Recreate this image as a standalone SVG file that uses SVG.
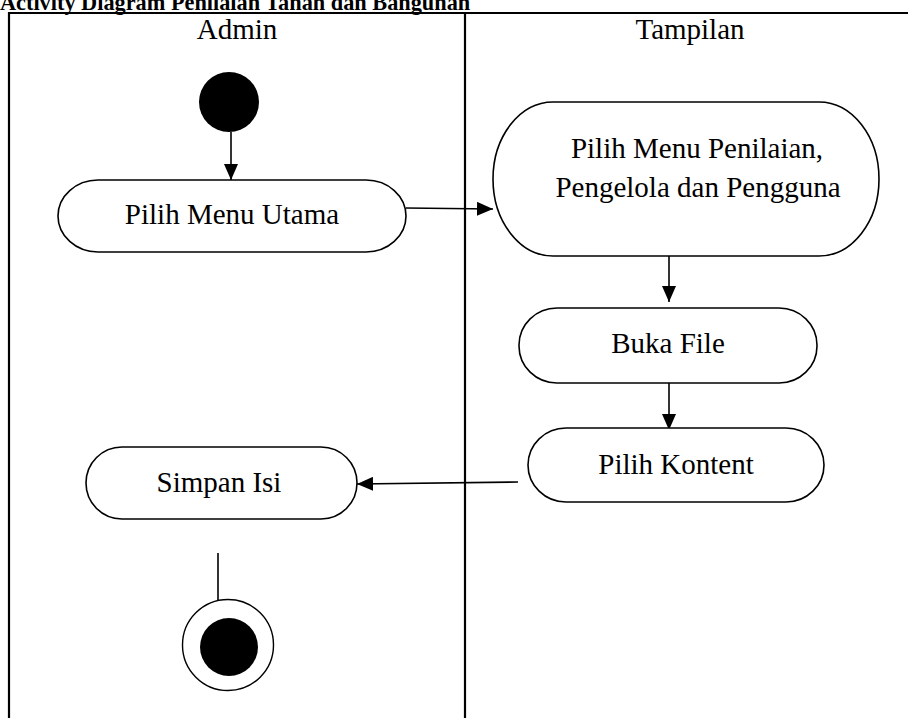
<svg xmlns="http://www.w3.org/2000/svg" width="908" height="718" viewBox="0 0 908 718">
<defs>
<marker id="arr" markerWidth="16" markerHeight="14" refX="16" refY="7" orient="auto" markerUnits="userSpaceOnUse">
<path d="M0,0 L16,7 L0,14 Z" fill="#000"/>
</marker>
</defs>
<style>
text{font-family:"Liberation Serif","Times New Roman",serif;fill:#000}
.lbl{font-size:29px;text-anchor:middle}
.title{font-size:22.3px;font-weight:bold}
.frame{stroke:#000;stroke-width:2.2;fill:none}
.act{fill:#fff;stroke:#000;stroke-width:1.6}
.edge{stroke:#000;stroke-width:1.6;fill:none}
</style>
<rect width="908" height="718" fill="#fff"/>
<text class="title" x="0" y="10">Activity Diagram Penilaian Tanah dan Bangunan</text>
<g id="swimlanes">
<line class="frame" x1="9" y1="13" x2="908" y2="13"/>
<line class="frame" x1="9" y1="12" x2="9" y2="718"/>
<line class="frame" x1="465" y1="13" x2="465" y2="718"/>
<text class="lbl" x="237" y="39">Admin</text>
<text class="lbl" x="690" y="39">Tampilan</text>
</g>
<g id="connectors">
<line class="edge" x1="231" y1="132" x2="231" y2="180" marker-end="url(#arr)"/>
<line class="edge" x1="406" y1="208" x2="493" y2="209" marker-end="url(#arr)"/>
<line class="edge" x1="669" y1="256" x2="669" y2="302" marker-end="url(#arr)"/>
<line class="edge" x1="669" y1="383" x2="669" y2="430" marker-end="url(#arr)"/>
<line class="edge" x1="518" y1="482" x2="357" y2="484" marker-end="url(#arr)"/>
<line class="edge" x1="218" y1="553" x2="218" y2="600"/>
</g>
<g id="start">
<circle cx="229" cy="102" r="30" fill="#000"/>
</g>
<g id="pilih-menu-utama">
<rect class="act" x="58" y="180" width="348" height="72" rx="40" ry="36"/>
<text class="lbl" x="232" y="224">Pilih Menu Utama</text>
</g>
<g id="pilih-menu-penilaian">
<rect class="act" x="493" y="102" width="386" height="154" rx="60" ry="77"/>
<text class="lbl" x="697" y="158">Pilih Menu Penilaian,</text>
<text class="lbl" x="698" y="197">Pengelola dan Pengguna</text>
</g>
<g id="buka-file">
<rect class="act" x="519" y="308" width="298" height="75" rx="38" ry="37"/>
<text class="lbl" x="668" y="353">Buka File</text>
</g>
<g id="pilih-kontent">
<rect class="act" x="528" y="428" width="296" height="74" rx="38" ry="37"/>
<text class="lbl" x="676" y="474">Pilih Kontent</text>
</g>
<g id="simpan-isi">
<rect class="act" x="86" y="447" width="271" height="72" rx="36" ry="36"/>
<text class="lbl" x="219" y="492">Simpan Isi</text>
</g>
<g id="end">
<circle cx="228" cy="645" r="45.5" fill="#fff" stroke="#000" stroke-width="1.4"/>
<circle cx="229" cy="647" r="29" fill="#000"/>
</g>
</svg>
